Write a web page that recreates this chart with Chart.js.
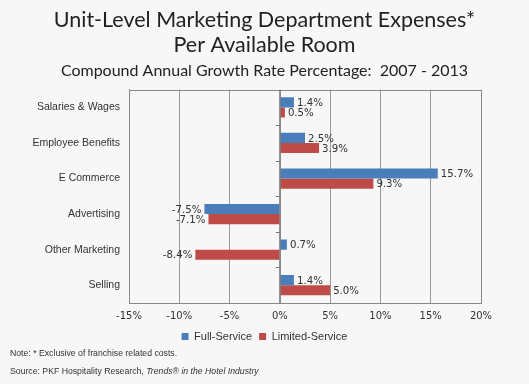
<!DOCTYPE html>
<html>
<head>
<meta charset="utf-8">
<script src="https://cdn.jsdelivr.net/npm/chart.js@4.4.1/dist/chart.umd.min.js"></script>
<style>
  body { margin: 0; background: #f7f7f7; }
  #wrap { position: relative; width: 529px; height: 384px; }
  .note { position: absolute; left: 10px; font-family: "Liberation Sans", Arial, sans-serif; font-size: 8.7px; color: #333; }
</style>
</head>
<body>
<div id="wrap">
  <canvas id="chart" width="529" height="384"></canvas>
  <div class="note" style="top:348px">Note: * Exclusive of franchise related costs.</div>
  <div class="note" style="top:366px">Source: PKF Hospitality Research, <i>Trends® in the Hotel Industry</i></div>
</div>
<script>
// Data
var categories = ['Salaries & Wages', 'Employee Benefits', 'E Commerce', 'Advertising', 'Other Marketing', 'Selling'];
var fullService = [1.4, 2.5, 15.7, -7.5, 0.7, 1.4];
var limitedService = [0.5, 3.9, 9.3, -7.1, -8.4, 5.0];
var xTicks = [-15, -10, -5, 0, 5, 10, 15, 20];

// labels at bar ends, plot box, little ticks on the zero line
var barLabels = {
  id: 'barLabels',
  afterDatasetsDraw: function (chart) {
    var ctx = chart.ctx;
    var area = chart.chartArea;
    ctx.save();
    ctx.font = '10.2px "DejaVu Sans", Verdana, sans-serif';
    ctx.fillStyle = '#333';
    ctx.textBaseline = 'middle';
    chart.data.datasets.forEach(function (ds, i) {
      chart.getDatasetMeta(i).data.forEach(function (bar, j) {
        var v = ds.data[j];
        if (v >= 0) {
          ctx.textAlign = 'left';
          ctx.fillText(v.toFixed(1) + '%', bar.x + 3, bar.y + 1);
        } else {
          ctx.textAlign = 'right';
          ctx.fillText(v.toFixed(1) + '%', bar.x - 3, bar.y + 1);
        }
      });
    });
    ctx.strokeStyle = '#888';
    ctx.lineWidth = 1;
    ctx.strokeRect(Math.round(area.left) + 0.5, Math.round(area.top) + 0.5,
      Math.round(area.right - area.left), Math.round(area.bottom - area.top));
    // zero axis
    var x0 = chart.scales.x.getPixelForValue(0);
    var y = chart.scales.y;
    ctx.strokeStyle = '#777';
    ctx.beginPath();
    ctx.moveTo(x0 + 0.5, area.top);
    ctx.lineTo(x0 + 0.5, area.bottom);
    for (var k = 1; k < categories.length; k++) {
      var yy = Math.round((y.getPixelForValue(k - 1) + y.getPixelForValue(k)) / 2) + 0.5;
      ctx.moveTo(x0 - 4, yy);
      ctx.lineTo(x0, yy);
    }
    ctx.stroke();
    ctx.restore();
  }
};

var chart = new Chart(document.getElementById('chart'), {
  type: 'bar',
  data: {
    labels: categories,
    datasets: [{
      label: 'Full-Service',
      data: fullService,
      backgroundColor: '#4a7ebb'
    }, {
      label: 'Limited-Service',
      data: limitedService,
      backgroundColor: '#be4b48'
    }]
  },
  options: {
    indexAxis: 'y',
    responsive: false,
    animation: false,
    categoryPercentage: 0.57,
    barPercentage: 1,
    layout: { padding: { left: 0, right: 0, top: 4, bottom: 32 } },
    scales: {
      x: {
        min: -15,
        max: 20,
        afterBuildTicks: function (scale) {
          scale.ticks = xTicks.map(function (v) { return { value: v }; });
        },
        afterFit: function (scale) { scale.height = 21; },
        ticks: {
          color: '#333',
          font: { family: '"DejaVu Sans", Verdana, sans-serif', size: 10 },
          callback: function (v) { return v + '%'; },
          padding: 7
        },
        grid: { color: '#999', drawTicks: false },
        border: { color: '#888' }
      },
      y: {
        afterFit: function (scale) { scale.width = 129; },
        ticks: {
          color: '#333',
          font: { family: '"Liberation Sans", Arial, sans-serif', size: 10.5 },
          padding: 9
        },
        grid: { display: false, drawTicks: false },
        border: { color: '#888' }
      },
      // empty right-hand space so the plot ends where the reference does
      spacer: {
        type: 'linear',
        position: 'right',
        afterFit: function (scale) { scale.width = 48; },
        ticks: { display: false },
        grid: { display: false, drawTicks: false },
        border: { display: false }
      }
    },
    plugins: {
      title: {
        display: true,
        text: ['Unit-Level Marketing Department Expenses*', 'Per Available Room'],
        color: '#222',
        font: { family: 'Lato, sans-serif', size: 21.5, weight: 'normal', lineHeight: 1.15 },
        padding: { top: 4, bottom: 2 }
      },
      subtitle: {
        display: true,
        text: 'Compound Annual Growth Rate Percentage:  2007 - 2013',
        color: '#222',
        font: { family: 'Lato, sans-serif', size: 16 },
        padding: { top: 2, bottom: 9 }
      },
      legend: {
        position: 'bottom',
        labels: {
          boxWidth: 7,
          boxHeight: 7,
          color: '#333',
          font: { family: '"Liberation Sans", Arial, sans-serif', size: 11 },
          padding: 7
        }
      },
      tooltip: { enabled: false }
    }
  },
  plugins: [barLabels]
});
</script>
</body>
</html>
